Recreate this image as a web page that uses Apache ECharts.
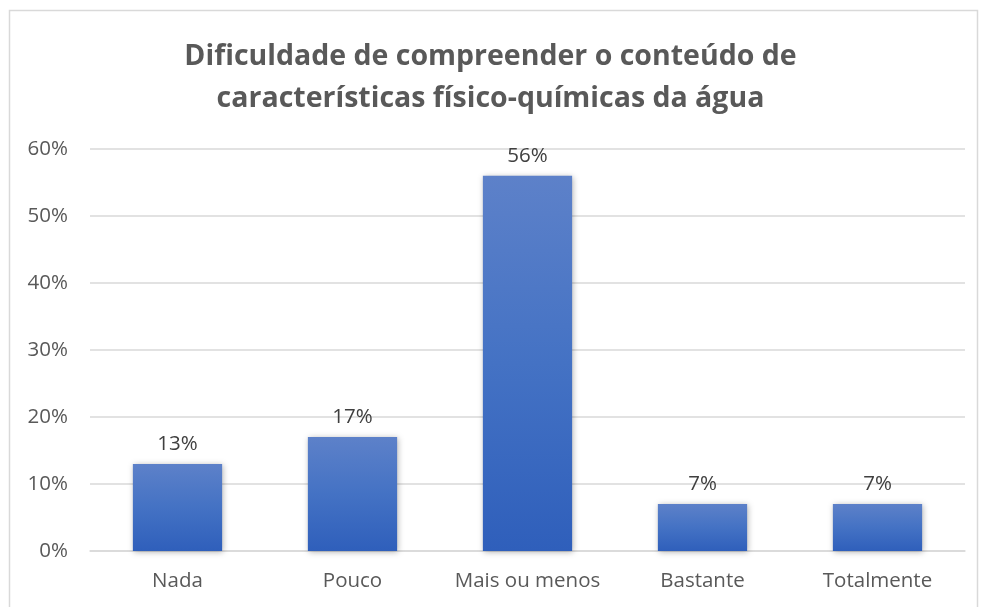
<!DOCTYPE html>
<html>
<head>
<meta charset="utf-8">
<script src="https://cdn.jsdelivr.net/npm/echarts@6/dist/echarts.min.js"></script>
<style>
  html, body { margin: 0; padding: 0; background: #fff; }
  #chart { width: 981px; height: 607px; }
</style>
</head>
<body>
<div id="chart"></div>
<script>
const categories = ['Nada', 'Pouco', 'Mais ou menos', 'Bastante', 'Totalmente'];
const percentages = [13, 17, 56, 7, 7];
const titleLines = ['Dificuldade de compreender o conteúdo de', 'características físico-químicas da água'];

const chart = echarts.init(document.getElementById('chart'));
const option = {
  backgroundColor: '#fff',
  animation: false,
  title: {
    text: titleLines.join('\n'),
    left: 'center',
    top: 31,
    textStyle: {
      fontFamily: 'Open Sans',
      fontWeight: 'bold',
      fontSize: 28.5,
      lineHeight: 42,
      color: '#595959'
    }
  },
  graphic: [
    {
      type: 'rect',
      shape: { x: 9.5, y: 10.5, width: 968, height: 610 },
      style: { fill: 'none', stroke: '#d9d9d9', lineWidth: 1.5 },
      silent: true
    }
  ],
  grid: { left: 90, right: 16, top: 149, bottom: 56 },
  xAxis: {
    type: 'category',
    data: categories,
    axisLine: { lineStyle: { color: '#d9d9d9', width: 1.5 } },
    axisTick: { show: false },
    axisLabel: { color: '#595959', fontSize: 20.5, fontFamily: 'Open Sans', margin: 20, interval: 0, hideOverlap: false }
  },
  yAxis: {
    type: 'value',
    min: 0,
    max: 60,
    interval: 10,
    axisLine: { show: false },
    axisTick: { show: false },
    axisLabel: { color: '#595959', fontSize: 20.5, fontFamily: 'Open Sans', margin: 22, formatter: '{value}%' },
    splitLine: { lineStyle: { color: '#d9d9d9', width: 1.5 } }
  },
  series: [
    {
      type: 'bar',
      data: percentages,
      barWidth: '51%',
      itemStyle: {
        color: new echarts.graphic.LinearGradient(0, 0, 0, 1, [
          { offset: 0, color: '#5d81c9' },
          { offset: 0.5, color: '#4472c4' },
          { offset: 1, color: '#2f5fbb' }
        ]),
        shadowColor: 'rgba(0,0,0,0.3)',
        shadowBlur: 6,
        shadowOffsetX: 1,
        shadowOffsetY: 1
      },
      label: {
        show: true,
        position: 'top',
        distance: 9,
        formatter: '{c}%',
        color: '#404040',
        fontSize: 20.5,
        fontFamily: 'Open Sans'
      }
    }
  ]
};
chart.setOption(option);
window.addEventListener('resize', () => chart.resize());
</script>
</body>
</html>
